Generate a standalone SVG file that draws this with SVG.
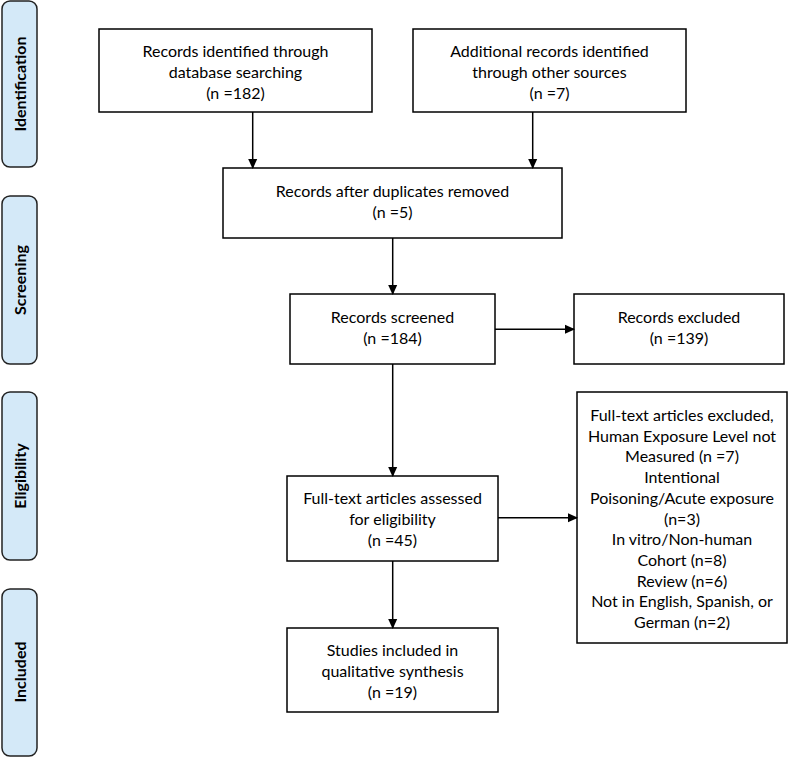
<svg xmlns="http://www.w3.org/2000/svg" width="788" height="757" viewBox="0 0 788 757">
<defs>
<marker id="ah" markerWidth="10" markerHeight="10" refX="9" refY="5" orient="auto" markerUnits="userSpaceOnUse">
<path d="M0,0.5 L10,5 L0,9.5 Z" fill="#000"/>
</marker>
<style>
.box{fill:#fff;stroke:#000;stroke-width:1.5}
.stage{fill:#d4e9f8;stroke:#222;stroke-width:1.5}
.t{font-family:Lato,"Open Sans",sans-serif;font-size:16px;fill:#000;text-anchor:middle}
.s{font-family:Lato,"Open Sans",sans-serif;font-size:16px;font-weight:bold;fill:#000;text-anchor:middle}
.c{stroke:#000;stroke-width:1.5;fill:none;marker-end:url(#ah)}
</style>
</defs>
<rect width="788" height="757" fill="#fff"/>
<g id="stage-identification"><rect class="stage" x="2" y="1" width="35" height="166" rx="8"/><text class="s" transform="translate(26,84) rotate(-90)">Identification</text></g>
<g id="stage-screening"><rect class="stage" x="2" y="196" width="35" height="168" rx="8"/><text class="s" transform="translate(26,280) rotate(-90)">Screening</text></g>
<g id="stage-eligibility"><rect class="stage" x="2" y="392" width="35" height="168" rx="8"/><text class="s" transform="translate(26,476) rotate(-90)">Eligibility</text></g>
<g id="stage-included"><rect class="stage" x="2" y="589" width="35" height="167" rx="8"/><text class="s" transform="translate(26,672) rotate(-90)">Included</text></g>

<g id="n1"><rect class="box" x="99" y="29" width="273" height="83"/>
<text class="t" x="235.5" y="57">Records identified through</text>
<text class="t" x="235.5" y="78">database searching</text>
<text class="t" x="235.5" y="99">(n =182)</text></g>
<g id="n2"><rect class="box" x="413" y="29" width="273" height="83"/>
<text class="t" x="549.5" y="57">Additional records identified</text>
<text class="t" x="549.5" y="78">through other sources</text>
<text class="t" x="549.5" y="99">(n =7)</text></g>
<g id="n3"><rect class="box" x="223" y="168" width="339" height="70"/>
<text class="t" x="392.5" y="197">Records after duplicates removed</text>
<text class="t" x="392.5" y="218">(n =5)</text></g>
<g id="n4"><rect class="box" x="290" y="294" width="205" height="70"/>
<text class="t" x="392.5" y="323">Records screened</text>
<text class="t" x="392.5" y="344">(n =184)</text></g>
<g id="n5"><rect class="box" x="574" y="294" width="210" height="70"/>
<text class="t" x="679" y="323">Records excluded</text>
<text class="t" x="679" y="344">(n =139)</text></g>
<g id="n6"><rect class="box" x="287" y="476" width="211" height="85"/>
<text class="t" x="392.5" y="504">Full-text articles assessed</text>
<text class="t" x="392.5" y="525">for eligibility</text>
<text class="t" x="392.5" y="546">(n =45)</text></g>
<g id="n7"><rect class="box" x="577" y="392" width="210" height="251"/>
<text class="t" x="682" y="421">Full-text articles excluded,</text>
<text class="t" x="682" y="441.7">Human Exposure Level not</text>
<text class="t" x="682" y="462.4">Measured (n =7)</text>
<text class="t" x="682" y="483.1">Intentional</text>
<text class="t" x="682" y="503.8">Poisoning/Acute exposure</text>
<text class="t" x="682" y="524.5">(n=3)</text>
<text class="t" x="682" y="545.2">In vitro/Non-human</text>
<text class="t" x="682" y="565.9">Cohort (n=8)</text>
<text class="t" x="682" y="586.6">Review (n=6)</text>
<text class="t" x="682" y="607.3">Not in English, Spanish, or</text>
<text class="t" x="682" y="628">German (n=2)</text></g>
<g id="n8"><rect class="box" x="287" y="628" width="211" height="84"/>
<text class="t" x="392.5" y="656">Studies included in</text>
<text class="t" x="392.5" y="677">qualitative synthesis</text>
<text class="t" x="392.5" y="698">(n =19)</text></g>

<g id="connectors">
<line class="c" x1="252.7" y1="112" x2="252.7" y2="168"/>
<line class="c" x1="532.7" y1="112" x2="532.7" y2="168"/>
<line class="c" x1="392.7" y1="238" x2="392.7" y2="294"/>
<line class="c" x1="495" y1="329.3" x2="574" y2="329.3"/>
<line class="c" x1="392.7" y1="364" x2="392.7" y2="476"/>
<line class="c" x1="498" y1="517.7" x2="577" y2="517.7"/>
<line class="c" x1="392.7" y1="561" x2="392.7" y2="628"/>
</g>
</svg>
